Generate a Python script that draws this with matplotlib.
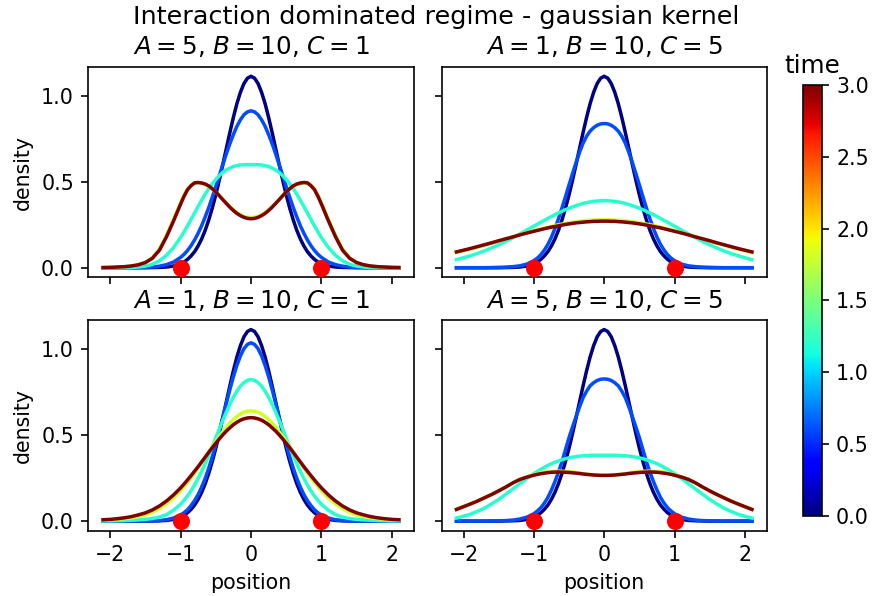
import matplotlib
matplotlib.use("Agg")
import matplotlib.pyplot as plt
import numpy as np
from matplotlib import cm
from matplotlib.colors import Normalize

# ---------------- data ----------------
position = [-2.1, -2.0, -1.9, -1.8, -1.7, -1.6, -1.5, -1.4, -1.3, -1.2, -1.1,
            -1.0, -0.95, -0.9, -0.85, -0.8, -0.75, -0.7, -0.65, -0.6, -0.55, -0.5,
            -0.45, -0.4, -0.35, -0.3, -0.25, -0.2, -0.15, -0.1, -0.05, 0.0,
            0.05, 0.1, 0.15, 0.2, 0.25, 0.3, 0.35, 0.4, 0.45, 0.5,
            0.55, 0.6, 0.65, 0.7, 0.75, 0.8, 0.85, 0.9, 0.95, 1.0,
            1.1, 1.2, 1.3, 1.4, 1.5, 1.6, 1.7, 1.8, 1.9, 2.0, 2.1]

times = [0.0, 0.6, 1.2, 1.8, 3.0]
particle_positions = [-1.0, 1.0]

titles = ["$A=5$, $B=10$, $C=1$", "$A=1$, $B=10$, $C=5$",
          "$A=1$, $B=10$, $C=1$", "$A=5$, $B=10$, $C=5$"]

density_t0 = [0, 0, 0, 0, 0, 0, 0, 0.001, 0.002, 0.004, 0.010,
              0.024, 0.034, 0.049, 0.069, 0.094, 0.127, 0.168, 0.218, 0.278, 0.347, 0.424, 0.510, 0.601, 0.694, 0.787, 0.875, 0.955, 1.021, 1.072, 1.103,
              1.114,
              1.103, 1.072, 1.021, 0.955, 0.875, 0.787, 0.694, 0.601, 0.510, 0.424, 0.347, 0.278, 0.218, 0.168, 0.127, 0.094, 0.069, 0.049, 0.034, 0.024,
              0.010, 0.004, 0.002, 0.001, 0, 0, 0, 0, 0, 0, 0]

# panel 1: A=5, B=10, C=1
p1_t1 = [0, 0, 0, 0, 0, 0.001, 0.002, 0.004, 0.009, 0.018, 0.033,
         0.060, 0.078, 0.101, 0.129, 0.162, 0.201, 0.245, 0.296, 0.350, 0.410, 0.472, 0.537, 0.600, 0.663, 0.722, 0.775, 0.823, 0.861, 0.890, 0.907,
         0.913,
         0.907, 0.890, 0.861, 0.823, 0.775, 0.722, 0.663, 0.600, 0.537, 0.472, 0.410, 0.350, 0.296, 0.245, 0.201, 0.162, 0.129, 0.101, 0.078, 0.060,
         0.033, 0.018, 0.009, 0.004, 0.002, 0.001, 0, 0, 0, 0, 0]
p1_t2 = [0, 0, 0, 0, 0.001, 0.004, 0.009, 0.020, 0.040, 0.072, 0.117,
         0.175, 0.209, 0.244, 0.282, 0.319, 0.357, 0.393, 0.428, 0.460, 0.489, 0.514, 0.536, 0.555, 0.569, 0.580, 0.589, 0.594, 0.598, 0.599, 0.600,
         0.600,
         0.600, 0.599, 0.598, 0.594, 0.589, 0.580, 0.569, 0.555, 0.536, 0.514, 0.489, 0.460, 0.428, 0.393, 0.357, 0.319, 0.282, 0.244, 0.209, 0.175,
         0.117, 0.072, 0.040, 0.020, 0.009, 0.004, 0.001, 0, 0, 0, 0]
p1_t3 = [0.001, 0.002, 0.004, 0.006, 0.010, 0.017, 0.031, 0.058, 0.108, 0.188, 0.281,
         0.378, 0.422, 0.458, 0.480, 0.492, 0.494, 0.490, 0.485, 0.474, 0.459, 0.440, 0.419, 0.397, 0.376, 0.355, 0.337, 0.321, 0.309, 0.299, 0.294,
         0.292,
         0.294, 0.299, 0.309, 0.321, 0.337, 0.355, 0.376, 0.397, 0.419, 0.440, 0.459, 0.474, 0.485, 0.490, 0.494, 0.492, 0.480, 0.458, 0.422, 0.378,
         0.281, 0.188, 0.108, 0.058, 0.031, 0.017, 0.010, 0.006, 0.004, 0.002, 0.001]
p1_t4 = [0.001, 0.002, 0.004, 0.006, 0.010, 0.017, 0.030, 0.055, 0.102, 0.180, 0.272,
         0.370, 0.416, 0.455, 0.478, 0.494, 0.496, 0.493, 0.487, 0.476, 0.460, 0.441, 0.419, 0.396, 0.374, 0.352, 0.333, 0.316, 0.303, 0.293, 0.287,
         0.285,
         0.287, 0.293, 0.303, 0.316, 0.333, 0.352, 0.374, 0.396, 0.419, 0.441, 0.460, 0.476, 0.487, 0.493, 0.496, 0.494, 0.478, 0.455, 0.416, 0.370,
         0.272, 0.180, 0.102, 0.055, 0.030, 0.017, 0.010, 0.006, 0.004, 0.002, 0.001]

# panel 2: A=1, B=10, C=5
p2_t1 = [0, 0, 0, 0, 0, 0.001, 0.002, 0.003, 0.006, 0.011, 0.021,
         0.041, 0.056, 0.076, 0.103, 0.136, 0.178, 0.228, 0.285, 0.348, 0.414, 0.482, 0.548, 0.612, 0.672, 0.725, 0.765, 0.795, 0.815, 0.829, 0.837,
         0.839,
         0.837, 0.829, 0.815, 0.795, 0.765, 0.725, 0.672, 0.612, 0.548, 0.482, 0.414, 0.348, 0.285, 0.228, 0.178, 0.136, 0.103, 0.076, 0.056, 0.041,
         0.021, 0.011, 0.006, 0.003, 0.002, 0.001, 0, 0, 0, 0, 0]
p2_t2 = [0.047, 0.058, 0.070, 0.083, 0.098, 0.115, 0.133, 0.153, 0.174, 0.196, 0.219,
         0.242, 0.253, 0.265, 0.276, 0.287, 0.298, 0.309, 0.319, 0.328, 0.338, 0.346, 0.354, 0.361, 0.368, 0.374, 0.379, 0.383, 0.386, 0.388, 0.390,
         0.390,
         0.390, 0.388, 0.386, 0.383, 0.379, 0.374, 0.368, 0.361, 0.354, 0.346, 0.338, 0.328, 0.319, 0.309, 0.298, 0.287, 0.276, 0.265, 0.253, 0.242,
         0.219, 0.196, 0.174, 0.153, 0.133, 0.115, 0.098, 0.083, 0.070, 0.058, 0.047]
p2_t3 = [0.089, 0.099, 0.109, 0.120, 0.132, 0.143, 0.156, 0.168, 0.180, 0.192, 0.204,
         0.215, 0.221, 0.226, 0.231, 0.236, 0.241, 0.246, 0.250, 0.254, 0.258, 0.261, 0.265, 0.268, 0.270, 0.273, 0.275, 0.276, 0.277, 0.278, 0.279,
         0.279,
         0.279, 0.278, 0.277, 0.276, 0.275, 0.273, 0.270, 0.268, 0.265, 0.261, 0.258, 0.254, 0.250, 0.246, 0.241, 0.236, 0.231, 0.226, 0.221, 0.215,
         0.204, 0.192, 0.180, 0.168, 0.156, 0.143, 0.132, 0.120, 0.109, 0.099, 0.089]
p2_t4 = [0.092, 0.102, 0.112, 0.123, 0.134, 0.145, 0.157, 0.168, 0.179, 0.191, 0.202,
         0.212, 0.217, 0.222, 0.227, 0.232, 0.236, 0.240, 0.244, 0.248, 0.252, 0.255, 0.258, 0.261, 0.263, 0.265, 0.267, 0.268, 0.270, 0.270, 0.271,
         0.271,
         0.271, 0.270, 0.270, 0.268, 0.267, 0.265, 0.263, 0.261, 0.258, 0.255, 0.252, 0.248, 0.244, 0.240, 0.236, 0.232, 0.227, 0.222, 0.217, 0.212,
         0.202, 0.191, 0.179, 0.168, 0.157, 0.145, 0.134, 0.123, 0.112, 0.102, 0.092]

# panel 3: A=1, B=10, C=1
p3_t1 = [0, 0, 0, 0, 0, 0, 0, 0.001, 0.003, 0.008, 0.018,
         0.036, 0.049, 0.067, 0.091, 0.120, 0.155, 0.199, 0.249, 0.308, 0.374, 0.446, 0.524, 0.604, 0.686, 0.765, 0.840, 0.906, 0.961, 1.003, 1.028,
         1.037,
         1.028, 1.003, 0.961, 0.906, 0.840, 0.765, 0.686, 0.604, 0.524, 0.446, 0.374, 0.308, 0.249, 0.199, 0.155, 0.120, 0.091, 0.067, 0.049, 0.036,
         0.018, 0.008, 0.003, 0.001, 0, 0, 0, 0, 0, 0, 0]
p3_t2 = [0.001, 0.001, 0.002, 0.003, 0.005, 0.007, 0.010, 0.015, 0.023, 0.038, 0.063,
         0.098, 0.121, 0.147, 0.177, 0.211, 0.249, 0.290, 0.335, 0.383, 0.432, 0.484, 0.535, 0.586, 0.634, 0.680, 0.721, 0.756, 0.785, 0.806, 0.819,
         0.823,
         0.819, 0.806, 0.785, 0.756, 0.721, 0.680, 0.634, 0.586, 0.535, 0.484, 0.432, 0.383, 0.335, 0.290, 0.249, 0.211, 0.177, 0.147, 0.121, 0.098,
         0.063, 0.038, 0.023, 0.015, 0.010, 0.007, 0.005, 0.003, 0.002, 0.001, 0.001]
p3_t3 = [0.005, 0.007, 0.010, 0.014, 0.019, 0.026, 0.035, 0.051, 0.072, 0.100, 0.134,
         0.176, 0.200, 0.225, 0.252, 0.280, 0.310, 0.340, 0.371, 0.403, 0.434, 0.464, 0.493, 0.521, 0.547, 0.571, 0.591, 0.609, 0.623, 0.633, 0.639,
         0.641,
         0.639, 0.633, 0.623, 0.609, 0.591, 0.571, 0.547, 0.521, 0.493, 0.464, 0.434, 0.403, 0.371, 0.340, 0.310, 0.280, 0.252, 0.225, 0.200, 0.176,
         0.134, 0.100, 0.072, 0.051, 0.035, 0.026, 0.019, 0.014, 0.010, 0.007, 0.005]
p3_t4 = [0.008, 0.010, 0.014, 0.019, 0.026, 0.036, 0.048, 0.065, 0.088, 0.117, 0.152,
         0.193, 0.216, 0.240, 0.265, 0.291, 0.317, 0.345, 0.372, 0.400, 0.427, 0.453, 0.478, 0.502, 0.524, 0.543, 0.561, 0.575, 0.587, 0.595, 0.600,
         0.602,
         0.600, 0.595, 0.587, 0.575, 0.561, 0.543, 0.524, 0.502, 0.478, 0.453, 0.427, 0.400, 0.372, 0.345, 0.317, 0.291, 0.265, 0.240, 0.216, 0.193,
         0.152, 0.117, 0.088, 0.065, 0.048, 0.036, 0.026, 0.019, 0.014, 0.010, 0.008]

# panel 4: A=5, B=10, C=5
p4_t1 = [0, 0, 0, 0, 0, 0.001, 0.002, 0.003, 0.006, 0.012, 0.023,
         0.043, 0.059, 0.078, 0.105, 0.138, 0.181, 0.230, 0.285, 0.346, 0.416, 0.486, 0.548, 0.607, 0.665, 0.718, 0.756, 0.787, 0.805, 0.818, 0.825,
         0.827,
         0.825, 0.818, 0.805, 0.787, 0.756, 0.718, 0.665, 0.607, 0.548, 0.486, 0.416, 0.346, 0.285, 0.230, 0.181, 0.138, 0.105, 0.078, 0.059, 0.043,
         0.023, 0.012, 0.006, 0.003, 0.002, 0.001, 0, 0, 0, 0, 0]
p4_t2 = [0.018, 0.028, 0.040, 0.057, 0.076, 0.100, 0.126, 0.156, 0.186, 0.217, 0.247,
         0.276, 0.289, 0.302, 0.313, 0.324, 0.334, 0.342, 0.350, 0.357, 0.363, 0.368, 0.372, 0.375, 0.378, 0.380, 0.381, 0.382, 0.383, 0.383, 0.383,
         0.383,
         0.383, 0.383, 0.383, 0.382, 0.381, 0.380, 0.378, 0.375, 0.372, 0.368, 0.363, 0.357, 0.350, 0.342, 0.334, 0.324, 0.313, 0.302, 0.289, 0.276,
         0.247, 0.217, 0.186, 0.156, 0.126, 0.100, 0.076, 0.057, 0.040, 0.028, 0.018]
p4_t3 = [0.068, 0.084, 0.100, 0.117, 0.136, 0.155, 0.176, 0.198, 0.222, 0.243, 0.258,
         0.270, 0.275, 0.280, 0.284, 0.287, 0.289, 0.290, 0.291, 0.290, 0.289, 0.288, 0.286, 0.283, 0.279, 0.276, 0.273, 0.271, 0.269, 0.268, 0.267,
         0.267,
         0.267, 0.268, 0.269, 0.271, 0.273, 0.276, 0.279, 0.283, 0.286, 0.288, 0.289, 0.290, 0.291, 0.290, 0.289, 0.287, 0.284, 0.280, 0.275, 0.270,
         0.258, 0.243, 0.222, 0.198, 0.176, 0.155, 0.136, 0.117, 0.100, 0.084, 0.068]
p4_t4 = [0.068, 0.084, 0.100, 0.117, 0.136, 0.155, 0.176, 0.198, 0.222, 0.242, 0.256,
         0.267, 0.272, 0.276, 0.279, 0.282, 0.284, 0.285, 0.286, 0.285, 0.284, 0.283, 0.281, 0.279, 0.277, 0.274, 0.272, 0.270, 0.268, 0.267, 0.266,
         0.266,
         0.266, 0.267, 0.268, 0.270, 0.272, 0.274, 0.277, 0.279, 0.281, 0.283, 0.284, 0.285, 0.286, 0.285, 0.284, 0.282, 0.279, 0.276, 0.272, 0.267,
         0.256, 0.242, 0.222, 0.198, 0.176, 0.155, 0.136, 0.117, 0.100, 0.084, 0.068]

panels = [
    [density_t0, p1_t1, p1_t2, p1_t3, p1_t4],
    [density_t0, p2_t1, p2_t2, p2_t3, p2_t4],
    [density_t0, p3_t1, p3_t2, p3_t3, p3_t4],
    [density_t0, p4_t1, p4_t2, p4_t3, p4_t4],
]

# ---------------- figure ----------------
DPI = 148
fig, axes = plt.subplots(2, 2, sharex=True, sharey=True,
                         figsize=(872 / DPI, 596 / DPI), dpi=DPI)
axes = axes.ravel()

W, H = 872.0, 596.0
boxes = [(88.3, 66.7, 413.7, 277.3), (441.7, 66.7, 766.7, 277.3),
         (88.3, 320.0, 413.7, 530.7), (441.7, 320.0, 766.7, 530.7)]

cmap = cm.jet
norm = Normalize(vmin=0, vmax=3)

for i, ax in enumerate(axes):
    l, t, r, b = boxes[i]
    ax.set_position([l / W, 1 - b / H, (r - l) / W, (b - t) / H])
    for tm, dens in zip(times, panels[i]):
        ax.plot(position, dens, color=cmap(norm(tm)), lw=1.7)
    ax.plot(particle_positions, [0, 0], 'o', color='red', ms=7.3, zorder=5)
    ax.set_title(titles[i], fontsize=12)

axes[0].set_ylabel("density")
axes[2].set_ylabel("density")
axes[2].set_xlabel("position")
axes[3].set_xlabel("position")
axes[2].set_xticks([-2, -1, 0, 1, 2])
axes[2].set_yticks([0.0, 0.5, 1.0])

cax = fig.add_axes([802.7 / W, 1 - 515.7 / H, 19.0 / W, 430.7 / H])
sm = cm.ScalarMappable(norm=norm, cmap=cmap)
sm.set_array([])
cb = fig.colorbar(sm, cax=cax)
cax.set_title("time", fontsize=12)

fig.suptitle("Interaction dominated regime - gaussian kernel", fontsize=12.4,
             y=1 - 5.0 / H, va='top')

fig.savefig("out.png", dpi=DPI)
